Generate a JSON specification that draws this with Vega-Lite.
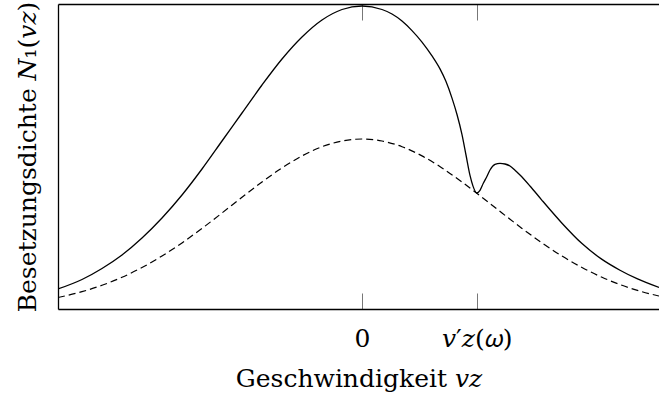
{
  "$schema": "https://vega.github.io/schema/vega-lite/v6.json",
  "width": 601,
  "height": 305,
  "autosize": {"type": "none"},
  "padding": {"left": 58, "top": 4, "right": 0, "bottom": 98},
  "view": {"stroke": null},
  "config": {
    "font": "DejaVu Serif",
    "axis": {"domainColor": "black", "domainWidth": 1.3, "tickColor": "#777", "tickWidth": 1, "grid": false}
  },
  "datasets": {
    "gauss": [
      {"v": -304, "n": 11.5}, {"v": -280, "n": 17.3}, {"v": -260, "n": 23.7}, {"v": -240, "n": 31.7},
      {"v": -220, "n": 41.5}, {"v": -200, "n": 53.0}, {"v": -180, "n": 66.1}, {"v": -160, "n": 80.6},
      {"v": -140, "n": 96.0}, {"v": -120, "n": 111.7}, {"v": -100, "n": 127.0}, {"v": -80, "n": 141.1},
      {"v": -60, "n": 153.1}, {"v": -40, "n": 162.3}, {"v": -20, "n": 168.0}, {"v": 0, "n": 170.0},
      {"v": 20, "n": 168.0}, {"v": 40, "n": 162.3}, {"v": 60, "n": 153.1}, {"v": 80, "n": 141.1},
      {"v": 100, "n": 127.0}, {"v": 120, "n": 111.7}, {"v": 140, "n": 96.0}, {"v": 160, "n": 80.6},
      {"v": 180, "n": 66.1}, {"v": 200, "n": 53.0}, {"v": 220, "n": 41.5}, {"v": 240, "n": 31.7},
      {"v": 260, "n": 23.7}, {"v": 280, "n": 17.3}, {"v": 297, "n": 13.0}
    ],
    "hole": [
      {"v": -304, "n": 20}, {"v": -280, "n": 29.5}, {"v": -260, "n": 40.5}, {"v": -240, "n": 54},
      {"v": -220, "n": 71}, {"v": -200, "n": 91}, {"v": -180, "n": 114}, {"v": -160, "n": 140},
      {"v": -140, "n": 168}, {"v": -120, "n": 196}, {"v": -100, "n": 224}, {"v": -80, "n": 250},
      {"v": -60, "n": 272}, {"v": -40, "n": 289}, {"v": -20, "n": 299.5}, {"v": 0, "n": 303},
      {"v": 20, "n": 299.5}, {"v": 30, "n": 295.0}, {"v": 40, "n": 288.0}, {"v": 50, "n": 278.4},
      {"v": 60, "n": 266.9}, {"v": 70, "n": 253.1}, {"v": 78, "n": 240.1}, {"v": 84, "n": 227.4},
      {"v": 90, "n": 210.9}, {"v": 95, "n": 194.5}, {"v": 100, "n": 174.4}, {"v": 104, "n": 154.0},
      {"v": 108, "n": 133.6}, {"v": 111, "n": 122.9}, {"v": 114.7, "n": 116.0}, {"v": 118, "n": 118.7},
      {"v": 121.3, "n": 125.7}, {"v": 125, "n": 132.8}, {"v": 128, "n": 139.0}, {"v": 133, "n": 144.6},
      {"v": 138, "n": 145.7}, {"v": 143, "n": 145.0}, {"v": 148, "n": 143.0}, {"v": 153, "n": 138.8},
      {"v": 158, "n": 134.0}, {"v": 168, "n": 123.0}, {"v": 180, "n": 108.7}, {"v": 200, "n": 85.8},
      {"v": 220, "n": 65.4}, {"v": 240, "n": 49.6}, {"v": 258, "n": 38.8}, {"v": 275, "n": 30.3},
      {"v": 297, "n": 21.5}
    ]
  },
  "layer": [
    {
      "data": {"name": "gauss"},
      "mark": {"type": "line", "color": "black", "strokeWidth": 1.2, "strokeDash": [7, 4], "interpolate": "monotone", "clip": true},
      "encoding": {
        "x": {
          "field": "v", "type": "quantitative",
          "scale": {"domain": [-304, 297], "nice": false, "zero": false},
          "axis": {
            "orient": "bottom", "values": [0, 114.7], "tickSize": -16,
            "labelExpr": "datum.value == 0 ? '0' : '𝑣′𝑧(𝜔)'",
            "labelFontSize": 25, "labelColor": "black", "labelPadding": 33,
            "title": "Geschwindigkeit 𝑣𝑧", "titleFontSize": 25, "titleFontWeight": "normal",
            "titleColor": "black", "titlePadding": 15
          }
        },
        "y": {
          "field": "n", "type": "quantitative",
          "scale": {"domain": [0, 305], "nice": false},
          "axis": {
            "orient": "left", "ticks": false, "labels": false,
            "title": "Besetzungsdichte 𝑁₁(𝑣𝑧)", "titleFontSize": 25, "titleFontWeight": "normal",
            "titleColor": "black", "titlePadding": 18
          }
        }
      }
    },
    {
      "data": {"name": "hole"},
      "mark": {"type": "line", "color": "black", "strokeWidth": 1.3, "interpolate": "monotone", "clip": true},
      "encoding": {
        "x": {
          "field": "v", "type": "quantitative",
          "axis": {"orient": "top", "values": [0, 114.7], "tickSize": -16, "labels": false, "title": null}
        },
        "y": {"field": "n", "type": "quantitative"}
      }
    }
  ],
  "resolve": {"axis": {"x": "independent"}}
}
